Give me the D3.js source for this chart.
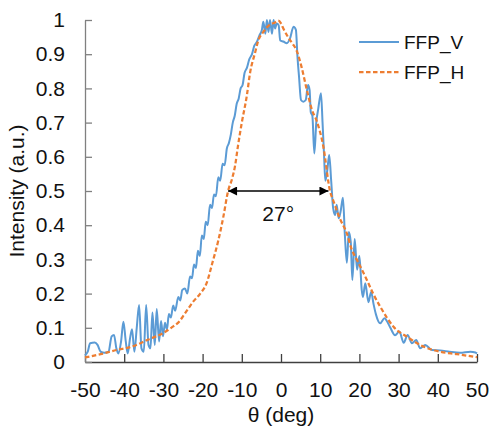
<!DOCTYPE html>
<html>
<head>
<meta charset="UTF-8">
<title>FFP</title>
<script src="https://d3js.org/d3.v7.min.js"></script>
<style>
  body { margin: 0; background: #fff; }
  text { font-family: "Liberation Sans", Arial, sans-serif; fill: #111; }
</style>
</head>
<body>
<div class="canvas"></div>
<script>
// data
const xTicks = [-50, -40, -30, -20, -10, 0, 10, 20, 30, 40, 50]
const xTickLabels = ['-50', '-40', '-30', '-20', '-10', '0', '10', '20', '30', '40', '50']
const yTicks = [0, 0.1, 0.2, 0.3, 0.4, 0.5, 0.6, 0.7, 0.8, 0.9, 1]
const yTickLabels = ['0', '0.1', '0.2', '0.3', '0.4', '0.5', '0.6', '0.7', '0.8', '0.9', '1']
const seriesNames = ['FFP_V', 'FFP_H']

// FFP_V (blue, noisy)
const vAngle = [-50, -49.3, -48.7, -47.5, -46.8, -46, -45, -44, -43.2, -42.6, -42, -41.5, -40.8, -40.2, -39.6, -39.1,
  -38.5, -38, -37.4, -36.8, -36.2, -35.6, -35, -34.4, -33.8, -33.3, -32.8, -32.2, -31.7, -31.1, -30.6, -30.1,
  -29.6, -29.1, -28.6, -28.1, -27.5, -27, -26.2, -25.7, -25.2, -24.5, -23.9, -23.2, -22.7, -22.2, -21.7, -21.2,
  -20.7, -20.2, -19.7, -19.2, -18.7, -18.1, -17.6, -17.1, -16.6, -16, -15.5, -14.9, -14.4, -13.8, -13.3, -12.8,
  -12.3, -11.8, -11.3, -10.8, -10.3, -9.8, -9.3, -8.7, -8.1, -7.4, -6.8, -6.2, -5.5, -4.9, -4.5, -4, -3.6, -3.2,
  -2.8, -2.3, -1.9, -1.5, -1.1, -0.6, -0.2, 0.6, 1.5, 2.3, 3.2, 3.8, 4.2, 4.6, 5.1, 5.7, 6.3, 6.9, 7.3, 7.6, 8,
  8.5, 9, 9.5, 10.2, 10.6, 11, 11.3, 11.8, 12.3, 12.8, 13.3, 13.8, 14.2, 14.7, 15.2, 15.8, 16.3, 16.8, 17.3,
  17.8, 18.2, 18.8, 19.4, 20, 20.6, 20.9, 21.5, 22.3, 23, 23.6, 24.2, 25.3, 26.4, 27, 27.9, 29.1, 30.2, 31.3,
  32.3, 33.4, 34.5, 35.5, 36.8, 38.5, 40.6, 43, 45.7, 48.3, 49.6, 50]
const vValue = [0.02, 0.03, 0.055, 0.057, 0.05, 0.03, 0.027, 0.03, 0.075, 0.079, 0.04, 0.025, 0.06, 0.118, 0.06, 0.025,
  0.07, 0.096, 0.03, 0.1, 0.167, 0.04, 0.03, 0.167, 0.05, 0.04, 0.145, 0.05, 0.155, 0.06, 0.12, 0.075,
  0.115, 0.095, 0.14, 0.13, 0.165, 0.15, 0.19, 0.18, 0.21, 0.215, 0.2, 0.25, 0.245, 0.285, 0.275, 0.325,
  0.31, 0.37, 0.36, 0.41, 0.4, 0.46, 0.45, 0.49, 0.485, 0.54, 0.53, 0.58, 0.575, 0.625, 0.64, 0.665,
  0.7, 0.72, 0.755, 0.77, 0.8, 0.81, 0.845, 0.86, 0.885, 0.9, 0.925, 0.935, 0.955, 0.97, 0.995, 0.96, 1, 0.965,
  1, 0.96, 1, 0.975, 0.99, 0.985, 0.94, 0.937, 0.932, 0.946, 0.98, 0.971, 0.893, 0.834, 0.766, 0.761, 0.766, 0.81, 0.795, 0.73, 0.72,
  0.61, 0.7, 0.74, 0.786, 0.7, 0.6, 0.53, 0.56, 0.605, 0.53, 0.45, 0.43, 0.46, 0.42, 0.44, 0.48, 0.37, 0.29, 0.38,
  0.35, 0.24, 0.36, 0.27, 0.31, 0.21, 0.19, 0.23, 0.175, 0.205, 0.17, 0.14, 0.113, 0.128, 0.12, 0.1, 0.078, 0.089, 0.056,
  0.079, 0.055, 0.064, 0.04, 0.05, 0.035, 0.034, 0.03, 0.027, 0.03, 0.028, 0.025]

// FFP_H (orange, smooth)
const hAngle = [-50, -46, -42, -38, -34, -30, -28, -26, -24.5, -22.5, -20.6, -19, -17.5, -16, -14.7, -13.5, -12.5,
  -11.7, -11, -10, -8.7, -7.9, -6.6, -5.8, -4.5, -3, -1.5, -0.7, 0, 0.6, 1.8, 3, 4, 5.3, 6.6, 7.9, 9.1, 10.8,
  12.5, 13.4, 15, 16.8, 18, 19.4, 21.9, 23.5, 25.3, 27, 28.7, 32.1, 36.4, 40.6, 44.9, 50]
const hValue = [0.013, 0.023, 0.035, 0.045, 0.065, 0.085, 0.1, 0.118, 0.142, 0.175, 0.2, 0.23, 0.29, 0.355, 0.425, 0.5, 0.535,
  0.575, 0.63, 0.7, 0.78, 0.845, 0.905, 0.94, 0.965, 0.985, 0.993, 0.998, 0.99, 0.975, 0.95, 0.93, 0.91, 0.86, 0.795, 0.737, 0.705, 0.63,
  0.5, 0.47, 0.42, 0.376, 0.33, 0.298, 0.24, 0.2, 0.162, 0.13, 0.103, 0.074, 0.045, 0.03, 0.023, 0.014]

// FWHM annotation
const fwhmLeft = -13.5
const fwhmRight = 12.1
const fwhmLevel = 0.5
const fwhmLabel = '27°'

const width = 493
const height = 432
const [mt, mb, mr, ml] = [20, 70, 16, 85]

const svg = d3.select('.canvas')
  .append('svg')
  .attr('width', width)
  .attr('height', height)

const x = d3.scaleLinear().domain([-50, 50]).range([ml, width - mr])
const y = d3.scaleLinear().domain([0, 1]).range([height - mb, mt])

const blue = '#5B9BD5'
const orange = '#ED7D31'

// axes, ticks pointing inward
const xAxisG = svg.append('g')
  .attr('transform', `translate(0, ${y(0)})`)
  .call(d3.axisBottom(x).tickValues(xTicks).tickFormat((d, i) => xTickLabels[i])
    .tickSizeInner(-8).tickSizeOuter(0).tickPadding(20))
const yAxisG = svg.append('g')
  .attr('transform', `translate(${x(-50)}, 0)`)
  .call(d3.axisLeft(y).tickValues(yTicks).tickFormat((d, i) => yTickLabels[i])
    .tickSizeInner(-7).tickSizeOuter(0).tickPadding(20))

xAxisG.selectAll('path, line').attr('stroke', '#404040').attr('stroke-width', 1.3)
yAxisG.selectAll('path, line').attr('stroke', '#808080').attr('stroke-width', 1.3)
svg.selectAll('.tick text').style('font-size', '21px').attr('fill', '#111')
  .style('font-family', '"Liberation Sans", Arial, sans-serif')

// lines
const vData = vAngle.map((a, i) => [a, vValue[i]])
const hData = hAngle.map((a, i) => [a, hValue[i]])

const line = d3.line()
  .x(d => x(d[0]))
  .y(d => y(d[1]))
  .curve(d3.curveMonotoneX)

svg.append('path')
  .attr('fill', 'none')
  .attr('stroke', blue)
  .attr('stroke-width', 2)
  .attr('d', line(vData))

svg.append('path')
  .attr('fill', 'none')
  .attr('stroke', orange)
  .attr('stroke-width', 2.25)
  .attr('stroke-dasharray', '4.5,2.5')
  .attr('d', line(hData))

// FWHM arrow
const defs = svg.append('defs')
;['start', 'end'].forEach(k => {
  defs.append('marker')
    .attr('id', 'arr-' + k)
    .attr('viewBox', '0 0 10 10')
    .attr('refX', k === 'end' ? 10 : 0)
    .attr('refY', 5)
    .attr('markerUnits', 'userSpaceOnUse')
    .attr('markerWidth', 10)
    .attr('markerHeight', 9)
    .attr('orient', 'auto')
    .append('path')
    .attr('d', k === 'end' ? 'M0,0 L10,5 L0,10 Z' : 'M10,0 L0,5 L10,10 Z')
    .attr('fill', '#000')
})
svg.append('line')
  .attr('x1', x(fwhmLeft)).attr('x2', x(fwhmRight))
  .attr('y1', y(fwhmLevel)).attr('y2', y(fwhmLevel))
  .attr('stroke', '#000')
  .attr('stroke-width', 1.5)
  .attr('marker-start', 'url(#arr-start)')
  .attr('marker-end', 'url(#arr-end)')

svg.append('text')
  .attr('x', (x(fwhmLeft) + x(fwhmRight)) / 2)
  .attr('y', y(fwhmLevel) + 30)
  .attr('text-anchor', 'middle')
  .style('font-size', '21px')
  .text(fwhmLabel)

// axis titles
svg.append('text')
  .attr('x', (x(-50) + x(50)) / 2)
  .attr('y', 422)
  .attr('text-anchor', 'middle')
  .style('font-size', '21px')
  .text('θ (deg)')

svg.append('text')
  .attr('transform', `translate(24, ${(y(0) + y(1)) / 2}) rotate(-90)`)
  .attr('text-anchor', 'middle')
  .style('font-size', '21px')
  .text('Intensity (a.u.)')

// legend
const legend = svg.append('g').attr('transform', 'translate(359, 42)')
const legendStyles = [
  { color: blue, dash: null, w: 2 },
  { color: orange, dash: '4.5,2.5', w: 2.25 }
]
seriesNames.forEach((name, i) => {
  const g = legend.append('g').attr('transform', `translate(0, ${i * 30})`)
  g.append('line')
    .attr('x1', 0).attr('x2', 40)
    .attr('stroke', legendStyles[i].color)
    .attr('stroke-width', legendStyles[i].w)
    .attr('stroke-dasharray', legendStyles[i].dash)
  g.append('text')
    .attr('x', 45)
    .attr('y', 7)
    .style('font-size', '19px')
    .text(name)
})
</script>
</body>
</html>
